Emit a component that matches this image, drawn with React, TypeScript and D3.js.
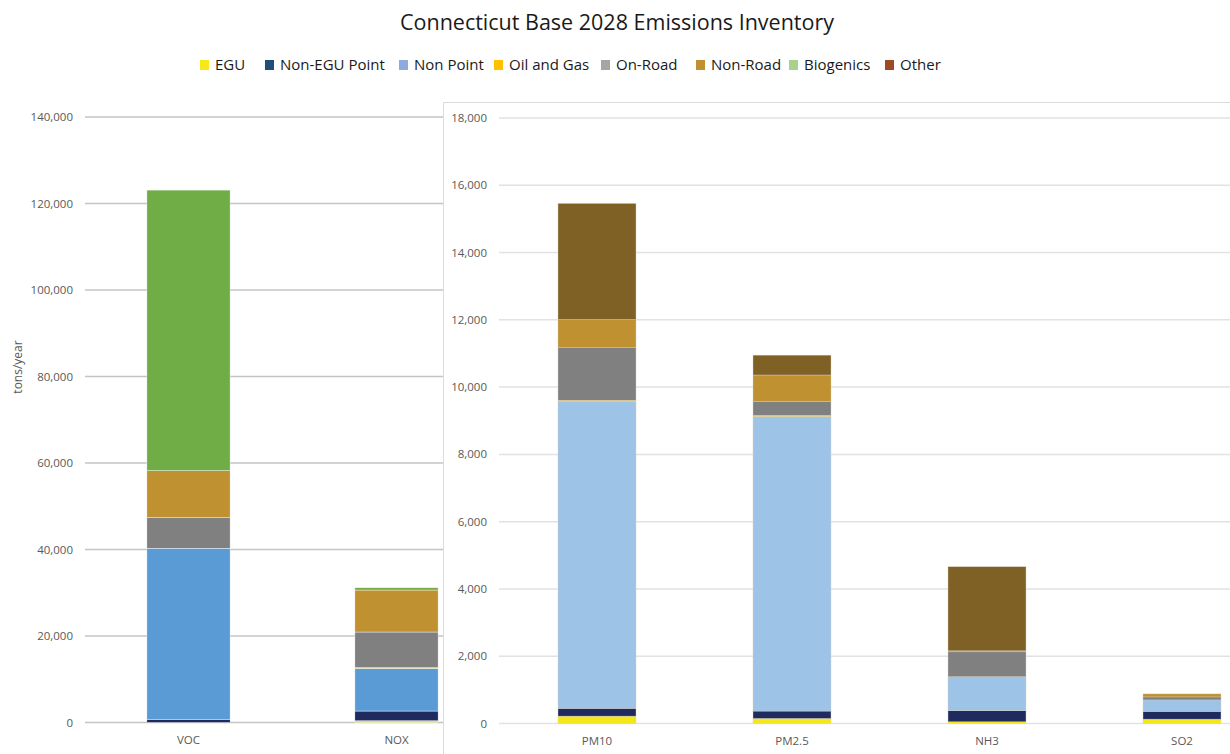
import * as d3 from 'd3';
import React from 'react';

const title = 'Connecticut Base 2028 Emissions Inventory';
const yLabel = 'tons/year';

const leftCategories = ['VOC', 'NOX'];
const rightCategories = ['PM10', 'PM2.5', 'NH3', 'SO2'];

const seriesNames = ['EGU', 'Non-EGU Point', 'Non Point', 'Oil and Gas', 'On-Road', 'Non-Road', 'Biogenics', 'Other'];

// values per series, order: VOC, NOX, PM10, PM2.5, NH3, SO2
const egu = [0, 400, 220, 150, 50, 130];
const nonEguPoint = [750, 2250, 230, 220, 330, 230];
const nonPoint = [39550, 9880, 9130, 8760, 1010, 340];
const oilAndGas = [0, 150, 30, 30, 0, 0];
const onRoad = [7050, 8240, 1560, 410, 740, 90];
const nonRoad = [10870, 9710, 840, 790, 30, 90];
const biogenics = [64880, 530, 0, 0, 0, 0];
const other = [0, 0, 3450, 590, 2500, 0];

const seriesValues = [egu, nonEguPoint, nonPoint, oilAndGas, onRoad, nonRoad, biogenics, other];

const leftTicks = [0, 20000, 40000, 60000, 80000, 100000, 120000, 140000];
const rightTicks = [0, 2000, 4000, 6000, 8000, 10000, 12000, 14000, 16000, 18000];

const legendColors = ['#F7E81A', '#1F4E79', '#8FAADC', '#FFC000', '#A5A5A5', '#BF9130', '#A9D18E', '#9E4A24'];
const leftColors = ['#F5E61A', '#1F2A5E', '#5B9BD5', '#FFC000', '#808080', '#BF9130', '#70AD47', '#9E4A24'];
const rightColors = ['#F5E61A', '#1F2A5E', '#9DC3E6', '#FFC000', '#808080', '#BF9130', '#70AD47', '#7F6125'];

const legendX = [200, 265, 399, 494, 601, 696, 789, 885];

const font = "'Open Sans', 'Noto Sans', sans-serif";
const fmt = d3.format(',');

type Row = { cat: string; [k: string]: number | string };

function buildRows(cats: string[], offset: number): Row[] {
  return cats.map((c, i) => {
    const r: Row = { cat: c };
    seriesNames.forEach((s, si) => {
      r[s] = seriesValues[si][i + offset];
    });
    return r;
  });
}

interface PanelProps {
  cats: string[];
  offset: number;
  xRange: [number, number];
  yRange: [number, number];
  yMax: number;
  ticks: number[];
  colors: string[];
  tickX: number;
  gridX: [number, number];
  gridColor: string;
  labelY: number;
  barStroke: string;
}

const Panel: React.FC<PanelProps> = (p) => {
  const rows = buildRows(p.cats, p.offset);
  const x = d3.scaleBand<string>().domain(p.cats).range(p.xRange).paddingInner(0.6).paddingOuter(0.3);
  const y = d3.scaleLinear().domain([0, p.yMax]).range(p.yRange);
  const stack = d3.stack<Row>().keys(seriesNames).value((d, k) => d[k] as number);
  const layers = stack(rows);

  return (
    <g>
      {p.ticks.map((t) => (
        <g key={`t-${t}`}>
          <line x1={p.gridX[0]} x2={p.gridX[1]} y1={y(t)} y2={y(t)} stroke={p.gridColor} strokeWidth={1.5} />
          <text x={p.tickX} y={y(t)} dy="0.35em" textAnchor="end" fontSize={11.5} fill="#595959" fontFamily={font}>
            {fmt(t)}
          </text>
        </g>
      ))}
      {layers.map((layer, li) =>
        layer.map((d) => {
          const h = y(d[0]) - y(d[1]);
          if (h <= 0) return null;
          return (
            <rect
              key={`${layer.key}-${d.data.cat}`}
              x={x(d.data.cat as string)}
              y={y(d[1])}
              width={x.bandwidth()}
              height={h}
              fill={p.colors[li]}
              stroke={p.barStroke}
              strokeWidth={0.4}
            />
          );
        })
      )}
      {p.cats.map((c) => (
        <text
          key={`c-${c}`}
          x={(x(c) || 0) + x.bandwidth() / 2}
          y={p.labelY}
          dy="0.35em"
          textAnchor="middle"
          fontSize={11.5}
          fill="#595959"
          fontFamily={font}
        >
          {c}
        </text>
      ))}
    </g>
  );
};

export default function App() {
  const width = 1230;
  const height = 754;
  return (
    <svg
      width={width}
      height={height}
      style={{ position: 'absolute', left: 0, top: 0, display: 'block', background: '#fff' }}
    >
      <rect x={0} y={0} width={width} height={height} fill="#fff" />
      <text x={617} y={22} dy="0.35em" textAnchor="middle" fontSize={21.5} fill="#1a1a1a" fontFamily={font}>
        {title}
      </text>
      {seriesNames.map((s, i) => (
        <g key={`lg-${s}`}>
          <rect x={legendX[i]} y={60} width={9} height={10} fill={legendColors[i]} />
          <text x={legendX[i] + 15} y={65} dy="0.35em" fontSize={15} fill="#1a1a1a" fontFamily={font}>
            {s}
          </text>
        </g>
      ))}
      <text
        transform="translate(18,367) rotate(-90)"
        textAnchor="middle"
        dy="0.35em"
        fontSize={12}
        fill="#595959"
        fontFamily={font}
      >
        {yLabel}
      </text>
      <Panel
        cats={leftCategories}
        offset={0}
        xRange={[84.5, 500.5]}
        yRange={[722.5, 117]}
        yMax={140000}
        ticks={leftTicks}
        colors={leftColors}
        tickX={73}
        gridX={[85, 443]}
        gridColor="#c4c4c4"
        labelY={740}
        barStroke="#ffffff"
      />
      <rect x={443.5} y={102.5} width={800} height={700} fill="#fff" stroke="#dcdcdc" strokeWidth={1} />
      <Panel
        cats={rightCategories}
        offset={2}
        xRange={[499.5, 1279.5]}
        yRange={[723.5, 118]}
        yMax={18000}
        ticks={rightTicks}
        colors={rightColors}
        tickX={487}
        gridX={[499, 1230]}
        gridColor="#e2e2e2"
        labelY={741}
        barStroke="#d8d0c0"
      />
    </svg>
  );
}
